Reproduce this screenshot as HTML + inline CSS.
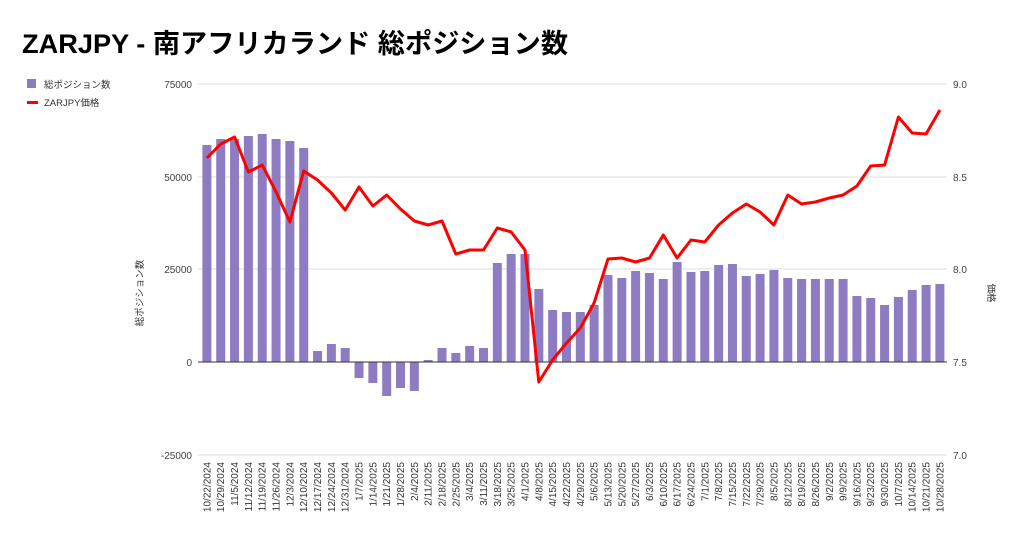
<!DOCTYPE html>
<html><head><meta charset="utf-8"><style>
body{margin:0;background:#fff;}
svg{display:block;font-family:"Liberation Sans","Noto Sans CJK JP",sans-serif;}
</style></head><body>
<svg id="s" width="1024" height="538" viewBox="0 0 1024 538">
<text x="22" y="53" font-size="27" font-weight="bold" fill="#000" textLength="546" lengthAdjust="spacingAndGlyphs">ZARJPY - 南アフリカランド 総ポジション数</text>
<rect x="27" y="79" width="9" height="9" fill="#8e7cc3"/>
<text x="44" y="88" font-size="9.5" fill="#333">総ポジション数</text>
<rect x="27" y="101" width="11" height="3" fill="#f00"/>
<text x="44" y="106" font-size="9.5" fill="#333">ZARJPY価格</text>
<g stroke="#ddd" stroke-width="1">
<line x1="198" y1="84" x2="947" y2="84"/><line x1="198" y1="177" x2="947" y2="177"/>
<line x1="198" y1="269" x2="947" y2="269"/><line x1="198" y1="455" x2="947" y2="455"/>
</g>
<g font-size="10" fill="#444" text-anchor="end">
<text x="192" y="88">75000</text><text x="192" y="181">50000</text><text x="192" y="273">25000</text><text x="192" y="366">0</text><text x="192" y="459">-25000</text>
</g>
<g font-size="10" fill="#444">
<text x="953" y="88">9.0</text><text x="953" y="181">8.5</text><text x="953" y="273">8.0</text><text x="953" y="366">7.5</text><text x="953" y="459">7.0</text>
</g>
<text transform="translate(143,293) rotate(-90)" font-size="9.5" fill="#333" text-anchor="middle">総ポジション数</text>
<text transform="translate(988,293) rotate(90)" font-size="9.5" fill="#333" text-anchor="middle">価格</text>
<g id="bars" fill="#8e7cc3"></g>
<line x1="198" y1="362" x2="947" y2="362" stroke="#333" stroke-width="1"/>
<polyline id="ln" fill="none" stroke="#f00" stroke-width="3" stroke-linejoin="round"/>
<g font-size="10" fill="#333" text-anchor="end" id="lbl">
<text transform="translate(210.4,462) rotate(-90)">10/22/2024</text>
<text transform="translate(224.2,462) rotate(-90)">10/29/2024</text>
<text transform="translate(238.1,462) rotate(-90)">11/5/2024</text>
<text transform="translate(251.9,462) rotate(-90)">11/12/2024</text>
<text transform="translate(265.7,462) rotate(-90)">11/19/2024</text>
<text transform="translate(279.6,462) rotate(-90)">11/26/2024</text>
<text transform="translate(293.4,462) rotate(-90)">12/3/2024</text>
<text transform="translate(307.2,462) rotate(-90)">12/10/2024</text>
<text transform="translate(321.0,462) rotate(-90)">12/17/2024</text>
<text transform="translate(334.9,462) rotate(-90)">12/24/2024</text>
<text transform="translate(348.7,462) rotate(-90)">12/31/2024</text>
<text transform="translate(362.5,462) rotate(-90)">1/7/2025</text>
<text transform="translate(376.4,462) rotate(-90)">1/14/2025</text>
<text transform="translate(390.2,462) rotate(-90)">1/21/2025</text>
<text transform="translate(404.0,462) rotate(-90)">1/28/2025</text>
<text transform="translate(417.9,462) rotate(-90)">2/4/2025</text>
<text transform="translate(431.7,462) rotate(-90)">2/11/2025</text>
<text transform="translate(445.5,462) rotate(-90)">2/18/2025</text>
<text transform="translate(459.3,462) rotate(-90)">2/25/2025</text>
<text transform="translate(473.2,462) rotate(-90)">3/4/2025</text>
<text transform="translate(487.0,462) rotate(-90)">3/11/2025</text>
<text transform="translate(500.8,462) rotate(-90)">3/18/2025</text>
<text transform="translate(514.7,462) rotate(-90)">3/25/2025</text>
<text transform="translate(528.5,462) rotate(-90)">4/1/2025</text>
<text transform="translate(542.3,462) rotate(-90)">4/8/2025</text>
<text transform="translate(556.2,462) rotate(-90)">4/15/2025</text>
<text transform="translate(570.0,462) rotate(-90)">4/22/2025</text>
<text transform="translate(583.8,462) rotate(-90)">4/29/2025</text>
<text transform="translate(597.6,462) rotate(-90)">5/6/2025</text>
<text transform="translate(611.5,462) rotate(-90)">5/13/2025</text>
<text transform="translate(625.3,462) rotate(-90)">5/20/2025</text>
<text transform="translate(639.1,462) rotate(-90)">5/27/2025</text>
<text transform="translate(653.0,462) rotate(-90)">6/3/2025</text>
<text transform="translate(666.8,462) rotate(-90)">6/10/2025</text>
<text transform="translate(680.6,462) rotate(-90)">6/17/2025</text>
<text transform="translate(694.5,462) rotate(-90)">6/24/2025</text>
<text transform="translate(708.3,462) rotate(-90)">7/1/2025</text>
<text transform="translate(722.1,462) rotate(-90)">7/8/2025</text>
<text transform="translate(735.9,462) rotate(-90)">7/15/2025</text>
<text transform="translate(749.8,462) rotate(-90)">7/22/2025</text>
<text transform="translate(763.6,462) rotate(-90)">7/29/2025</text>
<text transform="translate(777.4,462) rotate(-90)">8/5/2025</text>
<text transform="translate(791.3,462) rotate(-90)">8/12/2025</text>
<text transform="translate(805.1,462) rotate(-90)">8/19/2025</text>
<text transform="translate(818.9,462) rotate(-90)">8/26/2025</text>
<text transform="translate(832.8,462) rotate(-90)">9/2/2025</text>
<text transform="translate(846.6,462) rotate(-90)">9/9/2025</text>
<text transform="translate(860.4,462) rotate(-90)">9/16/2025</text>
<text transform="translate(874.2,462) rotate(-90)">9/23/2025</text>
<text transform="translate(888.1,462) rotate(-90)">9/30/2025</text>
<text transform="translate(901.9,462) rotate(-90)">10/7/2025</text>
<text transform="translate(915.7,462) rotate(-90)">10/14/2025</text>
<text transform="translate(929.6,462) rotate(-90)">10/21/2025</text>
<text transform="translate(943.4,462) rotate(-90)">10/28/2025</text>
</g>
</svg>
<script>
var bars=[145,139,139,136,134,139,141,148,351,344,348,378,383,396,388,391,360,348,353,346,348,263,254,254,289,310,312,312,305,275,278,271,273,279,262,272,271,265,264,276,274,270,278,279,279,279,279,296,298,305,297,290,285,284];
var line=[158,144,137,172,165,192,222,171,180,193,210,187,206,195,209,221,225,221,254,250,250,228,232,250,382,360,343,328,303,259,258,262,258,235,258,240,242,225,213,204,212,225,195,204,202,198,195,186,166,165,117,133,134,110];
var g=document.getElementById('bars'),ns='http://www.w3.org/2000/svg',pts=[];
for(var i=0;i<54;i++){var cx=206.9+13.83*i,y=bars[i];var r=document.createElementNS(ns,'rect');
r.setAttribute('x',cx-4.5);r.setAttribute('width',9);r.setAttribute('y',Math.min(y,362));r.setAttribute('height',Math.abs(362-y));g.appendChild(r);
pts.push(cx.toFixed(1)+','+line[i]);}
document.getElementById('ln').setAttribute('points',pts.join(' '));
</script>
</body></html>
